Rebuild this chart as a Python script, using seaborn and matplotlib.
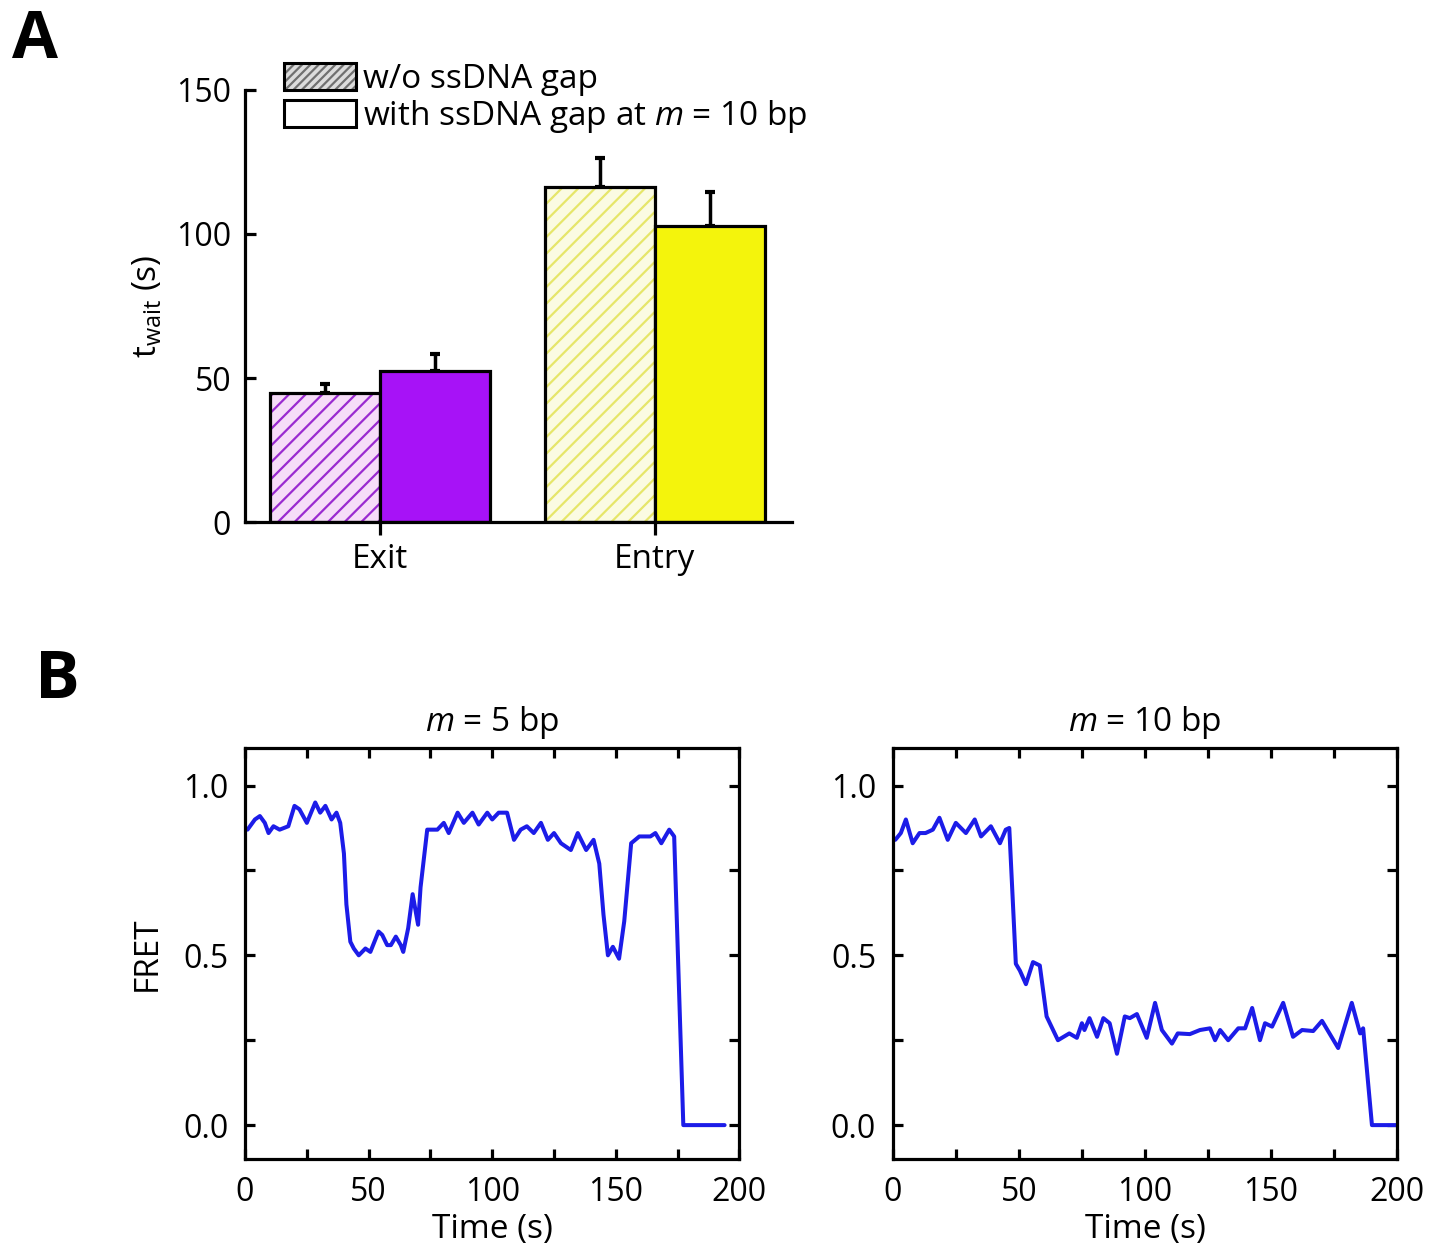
import numpy as np
import pandas as pd
import matplotlib
matplotlib.use("Agg")
import matplotlib.pyplot as plt
from matplotlib.patches import Patch
from matplotlib.ticker import MultipleLocator, FormatStrFormatter
from matplotlib.colors import to_rgba
import seaborn as sns

sns.set_style("ticks")
plt.rcParams["font.family"] = ["Open Sans", "DejaVu Sans"]
plt.rcParams["mathtext.fontset"] = "custom"
plt.rcParams["mathtext.rm"] = "Open Sans"
plt.rcParams["mathtext.it"] = "Open Sans:italic"
plt.rcParams["hatch.linewidth"] = 1.6
for key in ("text.color", "axes.labelcolor", "xtick.color", "ytick.color",
            "axes.edgecolor"):
    plt.rcParams[key] = "black"

# ---- Panel A: dwell times ----
sites = ["Exit", "Entry"]
conditions = ["w/o ssDNA gap", "with ssDNA gap at $m$ = 10 bp"]
twait_no_gap = [44.8, 116.3]
err_no_gap = [3.1, 10.1]
twait_gap = [52.4, 102.8]
err_gap = [6.0, 11.8]

# ---- Panel B: FRET traces ----
time_m5 = [1, 2, 4, 6, 8, 9.5, 11.5, 14, 17.5, 20, 22, 25, 28.4, 30.4, 32.5, 35,
           37, 38.5, 40, 41, 42.6, 44, 46, 48.7, 50.7, 54, 55.5, 57.5, 59, 61, 63,
           64, 66, 67.8, 70, 71, 73.7, 77.8, 80.4, 82.4, 86, 88.5, 92, 94.5, 98,
           100, 102.6, 106, 108.8, 111.5, 114, 116.8, 119.7, 122.5, 125, 127.8,
           131.8, 134.6, 138, 141, 143.3, 145, 146.8, 148.8, 151.3, 153.4, 156.2,
           159.5, 164, 166, 168.4, 171.6, 173.6, 177.3, 194]
fret_m5 = [0.87, 0.88, 0.90, 0.91, 0.89, 0.86, 0.88, 0.87, 0.88, 0.94, 0.93, 0.89,
           0.95, 0.92, 0.94, 0.90, 0.92, 0.89, 0.80, 0.65, 0.54, 0.52, 0.50, 0.52,
           0.51, 0.57, 0.56, 0.53, 0.53, 0.555, 0.53, 0.51, 0.58, 0.68, 0.59, 0.70,
           0.87, 0.87, 0.89, 0.86, 0.92, 0.89, 0.92, 0.885, 0.92, 0.90, 0.92, 0.92,
           0.84, 0.87, 0.88, 0.86, 0.89, 0.84, 0.86, 0.83, 0.81, 0.86, 0.81, 0.84,
           0.77, 0.62, 0.50, 0.525, 0.49, 0.60, 0.83, 0.85, 0.85, 0.86, 0.83, 0.87,
           0.85, 0.0, 0.0]

time_m10 = [1, 3.2, 5.2, 7.9, 10.6, 13, 15.9, 18.5, 21.8, 25, 29, 32.5, 35, 38.9,
            42.5, 44.8, 46.2, 48.8, 50.4, 52.8, 55.6, 58.3, 61, 65.5, 70, 73, 75,
            76, 78, 81, 83.5, 86, 88.9, 92, 94, 96.8, 100.7, 104, 106.7, 110.7,
            113, 117.8, 121.8, 125.8, 127.8, 129.8, 133, 137, 139.7, 142.5, 145.6,
            147.6, 150.4, 154.8, 158.7, 162.3, 166.7, 170.2, 176.6, 182, 185.3,
            186.5, 190, 200]
fret_m10 = [0.84, 0.86, 0.90, 0.83, 0.86, 0.86, 0.87, 0.905, 0.84, 0.89, 0.86,
            0.90, 0.85, 0.88, 0.83, 0.87, 0.875, 0.475, 0.455, 0.415, 0.48, 0.47,
            0.32, 0.25, 0.27, 0.257, 0.30, 0.28, 0.315, 0.26, 0.315, 0.30, 0.21,
            0.32, 0.315, 0.327, 0.257, 0.36, 0.28, 0.24, 0.27, 0.268, 0.28, 0.285,
            0.25, 0.28, 0.25, 0.285, 0.285, 0.345, 0.25, 0.30, 0.29, 0.36, 0.26,
            0.28, 0.277, 0.307, 0.227, 0.36, 0.27, 0.285, 0.0, 0.0]

fill_colors = {("Exit", 0): "#f6dcf8", ("Exit", 1): "#a712f7",
               ("Entry", 0): "#fbfbe2", ("Entry", 1): "#f4f40c"}
hatch_colors = {"Exit": "#9a2ad0", "Entry": "#e6e66a"}
trace_color = "#1c1ce8"

fig = plt.figure(figsize=(14.33, 12.49), dpi=100)
FS = 24      # labels, legend, titles
TS = 23      # tick labels

# ----------------- Panel A -----------------
axA = fig.add_axes([0.171, 0.582, 0.382, 0.346])
df = pd.DataFrame({
    "site": sites * 2,
    "twait": twait_no_gap + twait_gap,
    "condition": [conditions[0]] * 2 + [conditions[1]] * 2,
})
sns.barplot(data=df, x="site", y="twait", hue="condition", order=sites,
            hue_order=conditions, errorbar=None, width=0.8, legend=False,
            ax=axA)

bar_containers = list(axA.containers)
errs = [err_no_gap, err_gap]
for h, container in enumerate(bar_containers):
    centers, tops = [], []
    for site, bar in zip(sites, container.patches):
        bar.set_facecolor(fill_colors[(site, h)])
        bar.set_edgecolor("black")
        bar.set_linewidth(2.3)
        bar.set_zorder(2)
        if h == 0:
            bar.set_hatch("//")
            bar._hatch_color = to_rgba(hatch_colors[site])
        centers.append(bar.get_x() + bar.get_width() / 2)
        tops.append(bar.get_height())
    axA.errorbar(centers, tops, yerr=[np.zeros(len(tops)), errs[h]], fmt="none",
                 ecolor="black", elinewidth=2.5, capsize=3.6, capthick=3,
                 zorder=1)

axA.set_xlim(-0.49, 1.5)
axA.set_ylim(0, 150)
axA.set_yticks([0, 50, 100, 150])
axA.set_xlabel("")
axA.set_ylabel(r"t$_{\mathrm{wait}}$ (s)", fontsize=FS, labelpad=8)
for side in ("top", "right"):
    axA.spines[side].set_visible(False)
for side in ("left", "bottom"):
    axA.spines[side].set_linewidth(2.3)
axA.tick_params(axis="y", direction="in", length=8, width=2.3, labelsize=TS, pad=10)
axA.tick_params(axis="x", direction="out", length=9, width=2.3, labelsize=FS, pad=6)

leg_handles = [Patch(facecolor="#dcdcdc", edgecolor="black", hatch="////", linewidth=2.2),
               Patch(facecolor="white", edgecolor="black", linewidth=2.2)]
leg = fig.legend(leg_handles, conditions, loc="upper left",
                 bbox_to_anchor=(284 / 1433, 1 - 63 / 1249), frameon=False,
                 fontsize=FS, handlelength=2.15, handleheight=0.85,
                 handletextpad=0.22, labelspacing=0.06, borderpad=0,
                 borderaxespad=0)
leg.legend_handles[0]._hatch_color = to_rgba("#707070")

fig.text(12 / 1433, 1 - 40 / 1249, "A", fontsize=48, fontweight="bold",
         va="center", ha="left")

# ----------------- Panel B -----------------
def style_trace_axes(ax):
    ax.set_xlim(0, 200)
    ax.set_ylim(-0.1, 1.11)
    ax.xaxis.set_major_locator(MultipleLocator(50))
    ax.xaxis.set_minor_locator(MultipleLocator(25))
    ax.yaxis.set_major_locator(MultipleLocator(0.5))
    ax.yaxis.set_minor_locator(MultipleLocator(0.25))
    ax.yaxis.set_major_formatter(FormatStrFormatter("%.1f"))
    for s in ax.spines.values():
        s.set_linewidth(2.3)
    ax.tick_params(which="both", direction="in", top=True, right=True,
                   length=7, width=2.3, labelsize=TS)
    ax.tick_params(axis="y", which="major", pad=12)
    ax.tick_params(axis="x", which="major", pad=12)
    ax.set_xlabel("Time (s)", fontsize=FS, labelpad=3)

axB1 = fig.add_axes([0.171, 0.072, 0.345, 0.329])
sns.lineplot(x=time_m5, y=fret_m5, sort=False, estimator=None,
             color=trace_color, linewidth=2.9, ax=axB1)
style_trace_axes(axB1)
axB1.set_ylabel("FRET", fontsize=FS, labelpad=14)
axB1.set_title("$m$ = 5 bp", fontsize=FS, pad=12)

axB2 = fig.add_axes([0.623, 0.072, 0.352, 0.329])
sns.lineplot(x=time_m10, y=fret_m10, sort=False, estimator=None,
             color=trace_color, linewidth=2.9, ax=axB2)
style_trace_axes(axB2)
axB2.set_ylabel("")
axB2.set_title("$m$ = 10 bp", fontsize=FS, pad=12)

fig.text(35 / 1433, 1 - 680 / 1249, "B", fontsize=48, fontweight="bold",
         va="center", ha="left")

fig.savefig("out.png", dpi=100)
